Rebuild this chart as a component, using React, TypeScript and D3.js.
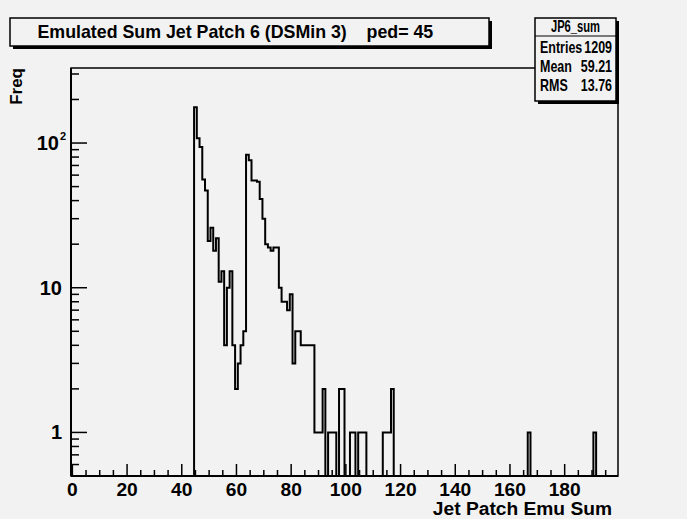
import React from 'react';
import * as d3 from 'd3';

// Histogram data (bin centres and counts), all other bins are empty
const binCenters = [
  45, 46, 47, 48, 49, 50, 51, 52, 53, 54, 55, 56, 57, 58, 59, 60, 61, 62, 63,
  64, 65, 66, 67, 68, 69, 70, 71, 72, 73, 74, 75,
  76, 77, 78, 79, 80, 81, 82, 83, 84, 85, 86, 87, 88, 89, 90, 91, 92,
  94, 95, 96, 98, 99, 102, 103, 105, 106, 107, 114, 115, 116, 117, 167, 191,
];
const binCounts = [
  177, 108, 94, 56, 47, 21, 26, 18, 22, 11, 13, 4, 10, 13, 4, 2, 3, 4, 5,
  83, 76, 55, 55, 54, 41, 30, 20, 19, 18, 19, 19,
  10, 8, 8, 7, 9, 3, 5, 5, 4, 4, 4, 4, 4, 1, 1, 1, 2,
  1, 1, 1, 2, 2, 1, 1, 1, 1, 1, 1, 1, 1, 2, 1, 1,
];
const xTickValues = [0, 20, 40, 60, 80, 100, 120, 140, 160, 180];
const yMajorTicks = [1, 10, 100];
const titleText = 'Emulated Sum Jet Patch 6 (DSMin 3)    ped= 45';
const statsName = 'JP6_sum';
const statsLabels = ['Entries', 'Mean', 'RMS'];
const statsValues = ['1209', '59.21', '13.76'];
const xTitle = 'Jet Patch Emu Sum';
const yTitle = 'Freq';

const FONT = 'Liberation Sans, Arial, Helvetica, sans-serif';
const BG = '#f2f2f2';

function NarrowText(props: {
  x: number;
  y: number;
  size: number;
  sx: number;
  anchor?: 'start' | 'middle' | 'end';
  children: React.ReactNode;
}) {
  return (
    <text
      transform={`translate(${props.x},${props.y}) scale(${props.sx},1)`}
      fontSize={props.size}
      textAnchor={props.anchor || 'start'}
    >
      {props.children}
    </text>
  );
}

export default function App() {
  const W = 687;
  const H = 519;
  const f = { left: 71, right: 618, top: 68, bottom: 476 };
  const nBins = 200;
  const x = d3.scaleLinear().domain([-0.5, 199.5]).range([f.left, f.right]);
  const y = d3.scaleLog().domain([0.5, 330]).range([f.bottom, f.top]);

  const counts: number[] = new Array(nBins).fill(0);
  binCenters.forEach((c, i) => {
    counts[c] = binCounts[i];
  });
  const pts: [number, number][] = [];
  for (let i = 0; i < nBins; i++) {
    const v = counts[i];
    const yy = v > 0 ? y(v) : f.bottom;
    pts.push([x(i - 0.5), yy]);
    pts.push([x(i + 0.5), yy]);
  }
  const histPath = d3.line()(pts) || '';

  const xMinor: number[] = [];
  for (let v = 5; v < 200; v += 5) if (v % 20 !== 0) xMinor.push(v);
  const yMinor: number[] = [];
  [0.1, 1, 10, 100].forEach((dec) => {
    for (let k = 2; k <= 9; k++) {
      const v = dec * k;
      if (v >= 0.5 && v <= 330) yMinor.push(v);
    }
  });

  const majX = 12;
  const minX = 6;
  const majY = 16;
  const minY = 8;

  return (
    <svg
      width={W}
      height={H}
      style={{ position: 'fixed', left: 0, top: 0, background: BG }}
      fontFamily={FONT}
      fontWeight="bold"
    >
      <rect x={0} y={0} width={W} height={H} fill={BG} />
      <rect
        x={f.left}
        y={f.top}
        width={f.right - f.left}
        height={f.bottom - f.top}
        fill={BG}
        stroke="#000"
        strokeWidth={1.5}
      />
      <path d={histPath} fill="none" stroke="#000" strokeWidth={2} />

      {/* x axis */}
      <line x1={f.left} x2={f.right} y1={f.bottom} y2={f.bottom} stroke="#000" strokeWidth={2} />
      {xTickValues.map((v) => (
        <g key={'xt' + v}>
          <line x1={x(v)} x2={x(v)} y1={f.bottom} y2={f.bottom - majX} stroke="#000" strokeWidth={1.5} />
          <text x={x(v)} y={f.bottom + 19.5} fontSize={19.2} textAnchor="middle">
            {v}
          </text>
        </g>
      ))}
      {xMinor.map((v) => (
        <line key={'xm' + v} x1={x(v)} x2={x(v)} y1={f.bottom} y2={f.bottom - minX} stroke="#000" strokeWidth={1.5} />
      ))}
      <text x={612} y={514.5} fontSize={19.2} textAnchor="end">
        {xTitle}
      </text>

      {/* y axis */}
      <line x1={f.left} x2={f.left} y1={f.top} y2={f.bottom} stroke="#000" strokeWidth={2} />
      {yMajorTicks.map((v) => (
        <line key={'yt' + v} x1={f.left} x2={f.left + majY} y1={y(v)} y2={y(v)} stroke="#000" strokeWidth={1.5} />
      ))}
      {yMinor.map((v) => (
        <line key={'ym' + v} x1={f.left} x2={f.left + minY} y1={y(v)} y2={y(v)} stroke="#000" strokeWidth={1.5} />
      ))}
      <text x={62} y={y(1) + 7} fontSize={20} textAnchor="end">1</text>
      <text x={62} y={y(10) + 7} fontSize={20} textAnchor="end">10</text>
      <text x={59} y={y(100) + 7} fontSize={20} textAnchor="end">10</text>
      <text x={60} y={y(100) - 3} fontSize={11} textAnchor="start">2</text>
      <text transform={`translate(22, ${f.top}) rotate(-90)`} fontSize={17} textAnchor="end">
        {yTitle}
      </text>

      {/* title box */}
      <rect x={13} y={21} width={479} height={28} fill="#000" />
      <rect x={10} y={18} width={479} height={28} fill={BG} stroke="#000" strokeWidth={1.5} />
      <text x={37.5} y={38} fontSize={17.8} style={{ whiteSpace: 'pre' }}>
        {titleText}
      </text>

      {/* stats box */}
      <rect x={538} y={21} width={81} height={83} fill="#000" />
      <rect x={535} y={18} width={81} height={83} fill={BG} stroke="#000" strokeWidth={1.5} />
      <line x1={535} x2={616} y1={36} y2={36} stroke="#000" strokeWidth={1.2} />
      <NarrowText x={575.5} y={32} size={16} sx={0.7} anchor="middle">
        {statsName}
      </NarrowText>
      {statsLabels.map((lab, i) => (
        <g key={lab}>
          <NarrowText x={540} y={53 + i * 19} size={16} sx={0.78}>
            {lab}
          </NarrowText>
          <NarrowText x={612} y={53 + i * 19} size={16} sx={0.78} anchor="end">
            {statsValues[i]}
          </NarrowText>
        </g>
      ))}
    </svg>
  );
}
